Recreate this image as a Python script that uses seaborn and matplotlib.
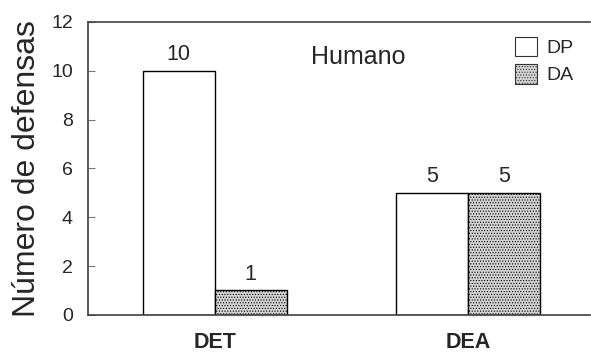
import pandas as pd
import seaborn as sns
import matplotlib.pyplot as plt

# datos del grafico
grupos = ["DET", "DEA"]
series = ["DP", "DA"]
valores_dp = [10, 5]
valores_da = [1, 5]

df = pd.DataFrame({
    "grupo": grupos * 2,
    "serie": [series[0]] * 2 + [series[1]] * 2,
    "valor": valores_dp + valores_da,
})

sns.set_style("white")
plt.rcParams['font.family'] = ['Liberation Sans', 'DejaVu Sans']
plt.rcParams['hatch.linewidth'] = 0.5

fig = plt.figure(figsize=(5.91, 3.53), dpi=100)
ax = fig.add_axes([0.149, 0.108, 0.849, 0.830])

sns.barplot(data=df, x="grupo", y="valor", hue="serie", ax=ax,
            width=0.567, palette=["white", "#d2d2d2"],
            edgecolor="black", linewidth=1.0)

# trama punteada para DA
for bar in ax.containers[1]:
    bar.set_hatch("......")
for cont in ax.containers:
    ax.bar_label(cont, fontsize=15.5, padding=4)

ax.set_xlim(-0.5, 1.48)
ax.set_ylim(0, 12)
ax.set_yticks(range(0, 13, 2))
ax.tick_params(axis="y", direction="in", length=5, color="#777777", labelsize=14,
               left=True, pad=11)
ax.tick_params(axis="x", length=0, labelsize=15.5, pad=12)
for lab in ax.get_xticklabels():
    lab.set_fontweight("bold")

ax.spines["right"].set_visible(False)
for s in ["left", "top", "bottom"]:
    ax.spines[s].set_color("#404040")
    ax.spines[s].set_linewidth(1.2)

ax.set_xlabel("")
ax.set_ylabel("Número de defensas", fontsize=23)
ax.yaxis.set_label_coords(-0.092, 0.5)
ax.text(0.538, 0.88, "Humano", transform=ax.transAxes, fontsize=18, ha="center", va="center")

leg = ax.legend(loc="upper left", bbox_to_anchor=(0.85, 0.95), frameon=False,
                fontsize=14, handlelength=1.18, handleheight=1.18, handletextpad=0.45,
                labelspacing=0.36, borderpad=0, borderaxespad=0)
for h in leg.legend_handles:
    h.set_edgecolor("#333333")
    h.set_linewidth(0.8)
leg.legend_handles[1].set_hatch("......")

fig.savefig("out.png", dpi=100)
